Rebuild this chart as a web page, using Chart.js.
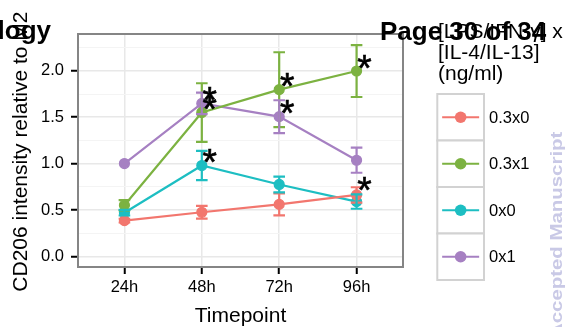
<!DOCTYPE html>
<html><head><meta charset="utf-8">
<script src="https://cdn.jsdelivr.net/npm/chart.js@4"></script>
<style>html,body{margin:0;padding:0;background:#fff;overflow:hidden;} canvas{display:block}</style>
</head><body>
<canvas id="c" width="567" height="327"></canvas>
<script>
// ---- data ----
const categories = ['24h', '48h', '72h', '96h'];
const seriesNames = ['0.3x0', '0.3x1', '0x0', '0x1'];
const mean_03x0 = [0.385, 0.475, 0.560, 0.662];
const mean_03x1 = [0.551, 1.550, 1.797, 1.998];
const mean_0x0  = [0.470, 0.979, 0.775, 0.590];
const mean_0x1  = [1.000, 1.649, 1.506, 1.036];
const sem_03x0 = [0.020, 0.068, 0.118, 0.083];
const sem_03x1 = [0.055, 0.316, 0.403, 0.280];
const sem_0x0  = [0.030, 0.158, 0.085, 0.077];
const sem_0x1  = [0.000, 0.115, 0.177, 0.135];
const starCategory = ['48h', '48h', '48h', '72h', '72h', '96h', '96h'];
const starValue    = [1.75, 1.65, 1.08, 1.90, 1.61, 2.09, 0.777];
const yMajorTicks = [0, 0.5, 1, 1.5, 2];
const yTickLabels = ['0.0', '0.5', '1.0', '1.5', '2.0'];
const yMinorTicks = [0.25, 0.75, 1.25, 1.75, 2.25];
const xTitle = 'Timepoint';
const yTitle = 'CD206 intensity relative to M2';
const legendTitle = ['[LPS/IFN-\u03b3] x', '[IL-4/IL-13]', '(ng/ml)'];
const pageHeader = 'Page 30 of 34';
const pageHeaderLeft = 'ology';
const watermark = 'Accepted Manuscript';

// ---- styles ----
const FONT = "'Liberation Sans', Arial, Helvetica, sans-serif";
const colors = ['#F2766E', '#7CB241', '#1DBEC2', '#A680C2'];
const means = [mean_03x0, mean_03x1, mean_0x0, mean_0x1];
const sems = [sem_03x0, sem_03x1, sem_0x0, sem_0x1];

const datasets = seriesNames.map((name, k) => ({
  label: name,
  data: categories.map((c, i) => ({x: i, y: means[k][i]})),
  err: sems[k],
  borderColor: colors[k],
  backgroundColor: colors[k],
  borderWidth: 2.2,
  pointRadius: 5,
  pointBorderWidth: 1.2,
  pointBorderColor: colors[k],
  pointBackgroundColor: colors[k],
  tension: 0,
  fill: false
}));

const isMajor = v => yMajorTicks.some(t => Math.abs(t - v) < 1e-9);

const errorBars = {
  id: 'errorBars',
  afterDatasetsDraw(chart) {
    const c = chart.ctx, xs = chart.scales.x, ys = chart.scales.y;
    c.save();
    chart.data.datasets.forEach(ds => {
      c.strokeStyle = ds.borderColor;
      c.lineWidth = 2.2;
      ds.data.forEach((p, j) => {
        const e = ds.err[j];
        if (!e) return;
        const x = xs.getPixelForValue(p.x);
        const hw = xs.getPixelForValue(p.x + 0.075) - x;
        const yt = ys.getPixelForValue(p.y + e), yb = ys.getPixelForValue(p.y - e);
        c.beginPath();
        c.moveTo(x, yt); c.lineTo(x, yb);
        c.moveTo(x - hw, yt); c.lineTo(x + hw, yt);
        c.moveTo(x - hw, yb); c.lineTo(x + hw, yb);
        c.stroke();
      });
    });
    // significance stars
    c.fillStyle = '#000';
    c.font = '37px ' + FONT;
    c.textAlign = 'left';
    c.textBaseline = 'alphabetic';
    const m = c.measureText('*');
    starCategory.forEach((cat, k) => {
      const cx = xs.getPixelForValue(categories.indexOf(cat) + 0.1);
      const cy = ys.getPixelForValue(starValue[k]);
      const x0 = cx - (m.actualBoundingBoxRight - m.actualBoundingBoxLeft) / 2;
      const y0 = cy + (m.actualBoundingBoxAscent - m.actualBoundingBoxDescent) / 2;
      c.fillText('*', x0, y0);
      c.strokeStyle = '#000'; c.lineWidth = 0.6; c.strokeText('*', x0, y0);
    });
    c.restore();
  }
};

const decorations = {
  id: 'decorations',
  afterDraw(chart) {
    const c = chart.ctx, a = chart.chartArea;
    c.save();
    // panel border
    c.strokeStyle = '#858585';
    c.lineWidth = 2;
    c.strokeRect(a.left, a.top, a.right - a.left, a.bottom - a.top);

    // axis titles
    c.fillStyle = '#000';
    c.font = '21px ' + FONT;
    c.textAlign = 'center';
    c.textBaseline = 'alphabetic';
    c.fillText(xTitle, (a.left + a.right) / 2, 322);
    c.save();
    c.translate(26.7, 291.7);
    c.rotate(-Math.PI / 2);
    c.textAlign = 'left';
    c.fillText(yTitle, 0, 0);
    c.restore();

    // legend
    c.textAlign = 'left';
    c.font = '21px ' + FONT;
    [37.5, 58.5, 79.5].forEach((b, i) => c.fillText(legendTitle[i], 438, b));
    const kl = 437.3, kw = 46.7, kt = 94, kh = 46.5;
    chart.data.datasets.forEach((ds, i) => {
      const top = kt + i * kh;
      c.fillStyle = '#fff';
      c.fillRect(kl, top, kw, kh);
      c.strokeStyle = '#d2d2d2';
      c.lineWidth = 2;
      c.strokeRect(kl, top, kw, kh);
      const cx = kl + kw / 2, cy = top + kh / 2;
      c.strokeStyle = ds.borderColor;
      c.lineWidth = 2.2;
      c.beginPath(); c.moveTo(cx - 18.5, cy); c.lineTo(cx + 18.5, cy); c.stroke();
      c.fillStyle = ds.borderColor;
      c.beginPath(); c.arc(cx, cy, 5.8, 0, Math.PI * 2); c.fill();
      c.fillStyle = '#000';
      c.font = '16.5px ' + FONT;
      c.textBaseline = 'middle';
      c.fillText(ds.label, 489, cy + 1);
      c.textBaseline = 'alphabetic';
    });

    // page overlays
    c.fillStyle = '#000';
    c.font = 'bold 26px ' + FONT;
    c.textAlign = 'left';
    c.fillText(pageHeader, 380, 40);
    c.textAlign = 'right';
    c.fillText(pageHeaderLeft, 51, 39);
    c.save();
    c.fillStyle = '#c9c9e6';
    c.font = 'bold 17px ' + FONT;
    c.translate(561.5, 131.7);
    c.rotate(-Math.PI / 2);
    c.scale(1.2, 1);
    c.textAlign = 'right';
    c.fillText(watermark, 0, 0);
    c.restore();
    c.restore();
  }
};

new Chart(document.getElementById('c'), {
  type: 'line',
  data: {datasets},
  options: {
    responsive: false,
    animation: false,
    devicePixelRatio: 1,
    layout: {padding: {left: 0, right: 164, top: 34, bottom: 0}},
    plugins: {legend: {display: false}, tooltip: {enabled: false}, title: {display: false}},
    scales: {
      x: {
        type: 'linear', min: -0.6, max: 3.6,
        afterBuildTicks: s => { s.ticks = categories.map((c, i) => ({value: i})); },
        afterFit: s => { s.height = 60; },
        ticks: {callback: v => categories[v], font: {family: FONT, size: 16.5}, color: '#000',
                padding: 4, autoSkip: false, maxRotation: 0},
        grid: {color: '#e8e8e8', lineWidth: 1.5, tickColor: '#000', tickWidth: 2, tickLength: 7},
        border: {display: false}
      },
      y: {
        type: 'linear', min: -0.115, max: 2.397,
        afterBuildTicks: s => {
          s.ticks = yMajorTicks.concat(yMinorTicks).sort((p, q) => p - q).map(v => ({value: v}));
        },
        afterFit: s => { s.width = 78; },
        ticks: {callback: v => { const k = yMajorTicks.findIndex(t => Math.abs(t - v) < 1e-9); return k >= 0 ? yTickLabels[k] : ''; },
                font: {family: FONT, size: 16.5}, color: '#000', padding: 7, autoSkip: false},
        grid: {
          color: c => (c.tick && !isMajor(c.tick.value)) ? '#f4f4f4' : '#e8e8e8',
          lineWidth: c => (c.tick && !isMajor(c.tick.value)) ? 1 : 1.5,
          tickColor: c => (c.tick && !isMajor(c.tick.value)) ? 'rgba(0,0,0,0)' : '#000',
          tickWidth: 2, tickLength: 7
        },
        border: {display: false}
      }
    }
  },
  plugins: [errorBars, decorations]
});
</script>
</body></html>
